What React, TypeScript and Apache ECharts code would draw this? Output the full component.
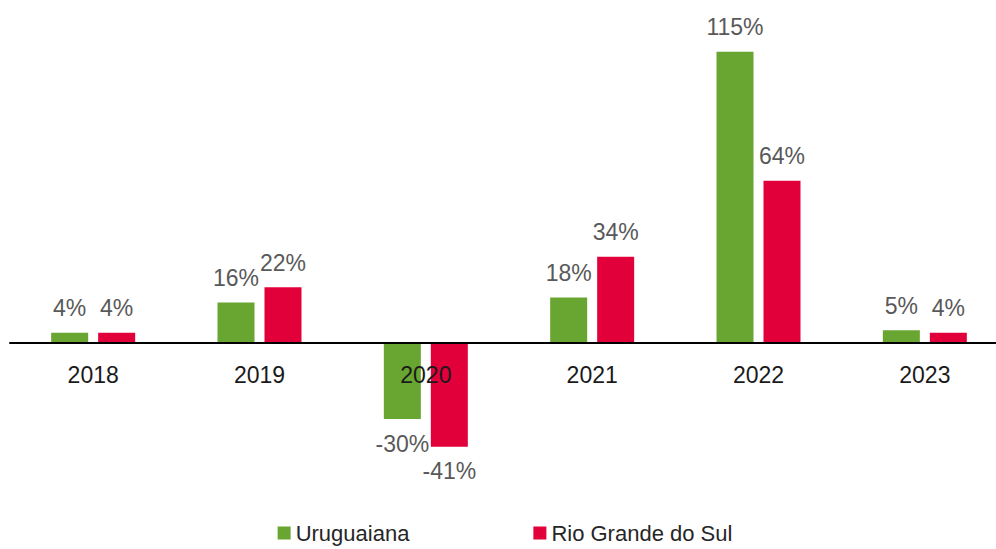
import React, { useEffect, useRef } from "react";
import * as echarts from "echarts";

const categories = ["2018", "2019", "2020", "2021", "2022", "2023"];
const uruguaiana = [4, 16, -30, 18, 115, 5];
const rioGrande = [4, 22, -41, 34, 64, 4];
const seriesNames = ["Uruguaiana", "Rio Grande do Sul"];

const FONT = "'Liberation Sans', Arial, sans-serif";
const Y_MIN = -60;
const Y_MAX = 120;
const GRID_TOP = 39;
const GRID_BOTTOM = 54;
const CHART_W = 1010;
const CHART_H = 549;

function toItems(values: number[]) {
  return values.map((v) => ({
    value: v,
    label: { position: v < 0 ? "bottom" : "top" },
  }));
}

export default function App() {
  const ref = useRef<HTMLDivElement>(null);
  useEffect(() => {
    document.body.style.margin = "0";
    document.body.style.overflow = "hidden";
    const chart = echarts.init(ref.current!, undefined, { renderer: "svg" });
    const gridH = CHART_H - GRID_TOP - GRID_BOTTOM;
    const zeroOffset = (-Y_MIN / (Y_MAX - Y_MIN)) * gridH;
    const label = {
      show: true,
      distance: 13,
      fontSize: 23,
      color: "#595959",
      fontFamily: FONT,
      formatter: (p: any) => `${p.value}%`,
    };
    chart.setOption({
      animation: false,
      backgroundColor: "#ffffff",
      grid: { left: 10, right: 2, top: GRID_TOP, bottom: GRID_BOTTOM, containLabel: false },
      legend: {
        bottom: 0,
        left: "center",
        itemWidth: 13,
        itemHeight: 13,
        itemGap: 124,
        icon: "rect",
        textStyle: { fontSize: 22, color: "#262626", fontFamily: FONT },
        data: seriesNames,
      },
      xAxis: {
        type: "category",
        data: categories,
        offset: -zeroOffset,
        axisLine: { show: true, onZero: false, lineStyle: { color: "#000000", width: 2 } },
        axisTick: { show: false },
        axisLabel: { fontSize: 23, color: "#1a1a1a", margin: 20, fontFamily: FONT },
        z: 10,
      },
      yAxis: {
        type: "value",
        min: Y_MIN,
        max: Y_MAX,
        show: false,
        splitLine: { show: false },
      },
      series: [
        {
          name: seriesNames[0],
          type: "bar",
          barWidth: 37,
          barGap: "27%",
          itemStyle: { color: "#68A531" },
          label,
          data: toItems(uruguaiana),
        },
        {
          name: seriesNames[1],
          type: "bar",
          barWidth: 37,
          barGap: "27%",
          itemStyle: { color: "#E2003B" },
          label,
          data: toItems(rioGrande),
        },
      ],
    });
    return () => chart.dispose();
  }, []);
  return <div ref={ref} style={{ width: CHART_W, height: CHART_H }} />;
}
